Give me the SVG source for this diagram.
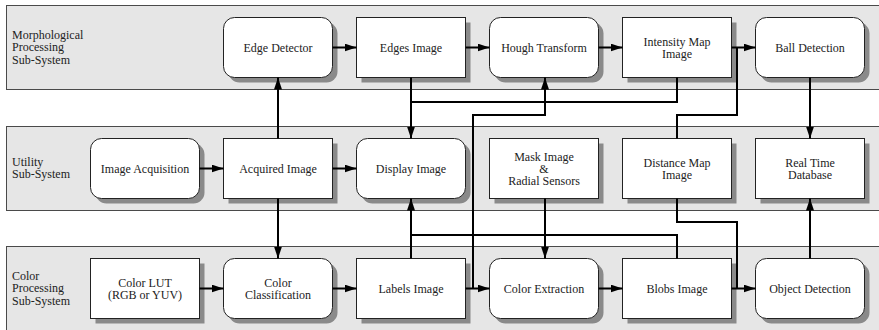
<svg xmlns="http://www.w3.org/2000/svg" width="879" height="330" viewBox="0 0 879 330">
<style>
.band{fill:#e6e6e6;stroke:#4a4a4a;stroke-width:1}
.shadow{fill:#8a8a8a}
.box{fill:#ffffff;stroke:#222;stroke-width:1}
.t{font-family:"Liberation Serif","Times New Roman",serif;font-size:12px;fill:#222}
.c{text-anchor:middle}
.ln{fill:none;stroke:#000;stroke-width:2}
</style>
<defs>
<marker id="ah" markerUnits="userSpaceOnUse" markerWidth="12" markerHeight="8" refX="12" refY="4" orient="auto">
<path d="M0,0 L12,4 L0,8 z" fill="#000"/>
</marker>
</defs>
<rect width="879" height="330" fill="#ffffff"/>
<g id="band-morph">
<rect class="band" x="6.5" y="5.5" width="880" height="84"/>
<text class="t" x="12" y="38.5">Morphological</text>
<text class="t" x="12" y="51">Processing</text>
<text class="t" x="12" y="63.5">Sub-System</text>
</g>
<g id="band-utility">
<rect class="band" x="6.5" y="126.5" width="880" height="84"/>
<text class="t" x="12" y="165.5">Utility</text>
<text class="t" x="12" y="178">Sub-System</text>
</g>
<g id="band-color">
<rect class="band" x="6.5" y="246.5" width="880" height="90"/>
<text class="t" x="12" y="279.5">Color</text>
<text class="t" x="12" y="292">Processing</text>
<text class="t" x="12" y="304.5">Sub-System</text>
</g>
<g id="edge-detector">
<rect class="shadow" x="228.5" y="22.5" width="109" height="60" rx="11"/>
<rect class="box" x="223.5" y="17.5" width="109" height="60" rx="11"/>
<text class="t c" x="278" y="51.5">Edge Detector</text>
</g>
<g id="edges-image">
<rect class="shadow" x="361.5" y="22.5" width="109" height="60"/>
<rect class="box" x="356.5" y="17.5" width="109" height="60"/>
<text class="t c" x="411" y="51.5">Edges Image</text>
</g>
<g id="hough-transform">
<rect class="shadow" x="494.5" y="22.5" width="109" height="60" rx="11"/>
<rect class="box" x="489.5" y="17.5" width="109" height="60" rx="11"/>
<text class="t c" x="544" y="51.5">Hough Transform</text>
</g>
<g id="intensity-map">
<rect class="shadow" x="627.5" y="22.5" width="109" height="60"/>
<rect class="box" x="622.5" y="17.5" width="109" height="60"/>
<text class="t c" x="677" y="45.5">Intensity Map</text>
<text class="t c" x="677" y="57.5">Image</text>
</g>
<g id="ball-detection">
<rect class="shadow" x="760.5" y="22.5" width="109" height="60" rx="11"/>
<rect class="box" x="755.5" y="17.5" width="109" height="60" rx="11"/>
<text class="t c" x="810" y="51.5">Ball Detection</text>
</g>
<g id="image-acquisition">
<rect class="shadow" x="95.5" y="143.5" width="109" height="60" rx="11"/>
<rect class="box" x="90.5" y="138.5" width="109" height="60" rx="11"/>
<text class="t c" x="145" y="172.5">Image Acquisition</text>
</g>
<g id="acquired-image">
<rect class="shadow" x="228.5" y="143.5" width="109" height="60"/>
<rect class="box" x="223.5" y="138.5" width="109" height="60"/>
<text class="t c" x="278" y="172.5">Acquired Image</text>
</g>
<g id="display-image">
<rect class="shadow" x="361.5" y="143.5" width="109" height="60" rx="11"/>
<rect class="box" x="356.5" y="138.5" width="109" height="60" rx="11"/>
<text class="t c" x="411" y="172.5">Display Image</text>
</g>
<g id="mask-image">
<rect class="shadow" x="494.5" y="143.5" width="109" height="60"/>
<rect class="box" x="489.5" y="138.5" width="109" height="60"/>
<text class="t c" x="544" y="160.5">Mask Image</text>
<text class="t c" x="544" y="172.5">&amp;</text>
<text class="t c" x="544" y="184.5">Radial Sensors</text>
</g>
<g id="distance-map">
<rect class="shadow" x="627.5" y="143.5" width="109" height="60"/>
<rect class="box" x="622.5" y="138.5" width="109" height="60"/>
<text class="t c" x="677" y="166.5">Distance Map</text>
<text class="t c" x="677" y="178.5">Image</text>
</g>
<g id="real-time-database">
<rect class="shadow" x="760.5" y="143.5" width="109" height="60"/>
<rect class="box" x="755.5" y="138.5" width="109" height="60"/>
<text class="t c" x="810" y="166.5">Real Time</text>
<text class="t c" x="810" y="178.5">Database</text>
</g>
<g id="color-lut">
<rect class="shadow" x="95.5" y="263.5" width="109" height="60"/>
<rect class="box" x="90.5" y="258.5" width="109" height="60"/>
<text class="t c" x="145" y="286.5">Color LUT</text>
<text class="t c" x="145" y="298.5">(RGB or YUV)</text>
</g>
<g id="color-classification">
<rect class="shadow" x="228.5" y="263.5" width="109" height="60" rx="11"/>
<rect class="box" x="223.5" y="258.5" width="109" height="60" rx="11"/>
<text class="t c" x="278" y="286.5">Color</text>
<text class="t c" x="278" y="298.5">Classification</text>
</g>
<g id="labels-image">
<rect class="shadow" x="361.5" y="263.5" width="109" height="60"/>
<rect class="box" x="356.5" y="258.5" width="109" height="60"/>
<text class="t c" x="411" y="292.5">Labels Image</text>
</g>
<g id="color-extraction">
<rect class="shadow" x="494.5" y="263.5" width="109" height="60" rx="11"/>
<rect class="box" x="489.5" y="258.5" width="109" height="60" rx="11"/>
<text class="t c" x="544" y="292.5">Color Extraction</text>
</g>
<g id="blobs-image">
<rect class="shadow" x="627.5" y="263.5" width="109" height="60"/>
<rect class="box" x="622.5" y="258.5" width="109" height="60"/>
<text class="t c" x="677" y="292.5">Blobs Image</text>
</g>
<g id="object-detection">
<rect class="shadow" x="760.5" y="263.5" width="109" height="60" rx="11"/>
<rect class="box" x="755.5" y="258.5" width="109" height="60" rx="11"/>
<text class="t c" x="810" y="292.5">Object Detection</text>
</g>
<g id="connectors">
<path class="ln" d="M332.5,47.5 H356.5" marker-end="url(#ah)"/>
<path class="ln" d="M465.5,47.5 H489.5" marker-end="url(#ah)"/>
<path class="ln" d="M598.5,47.5 H622.5" marker-end="url(#ah)"/>
<path class="ln" d="M731.5,47.5 H755.5" marker-end="url(#ah)"/>
<path class="ln" d="M199.5,168.5 H223.5" marker-end="url(#ah)"/>
<path class="ln" d="M332.5,168.5 H356.5" marker-end="url(#ah)"/>
<path class="ln" d="M199.5,288.5 H223.5" marker-end="url(#ah)"/>
<path class="ln" d="M332.5,288.5 H356.5" marker-end="url(#ah)"/>
<path class="ln" d="M465.5,288.5 H489.5" marker-end="url(#ah)"/>
<path class="ln" d="M598.5,288.5 H622.5" marker-end="url(#ah)"/>
<path class="ln" d="M731.5,288.5 H755.5" marker-end="url(#ah)"/>
<path class="ln" d="M278,138.5 V77.5" marker-end="url(#ah)"/>
<path class="ln" d="M278,198.5 V258.5" marker-end="url(#ah)"/>
<path class="ln" d="M411,77.5 V138.5" marker-end="url(#ah)"/>
<path class="ln" d="M677,77.5 V102 H411"/>
<path class="ln" d="M473,288.5 V115 H545 V77.5" marker-end="url(#ah)"/>
<path class="ln" d="M677,138.5 V115 H737 V47.5"/>
<path class="ln" d="M677,198.5 V222 H737 V288.5"/>
<path class="ln" d="M411,258.5 V198.5" marker-end="url(#ah)"/>
<path class="ln" d="M677,258.5 V235 H411"/>
<path class="ln" d="M545,198.5 V258.5" marker-end="url(#ah)"/>
<path class="ln" d="M810,77.5 V138.5" marker-end="url(#ah)"/>
<path class="ln" d="M810,258.5 V198.5" marker-end="url(#ah)"/>
</g>
</svg>
